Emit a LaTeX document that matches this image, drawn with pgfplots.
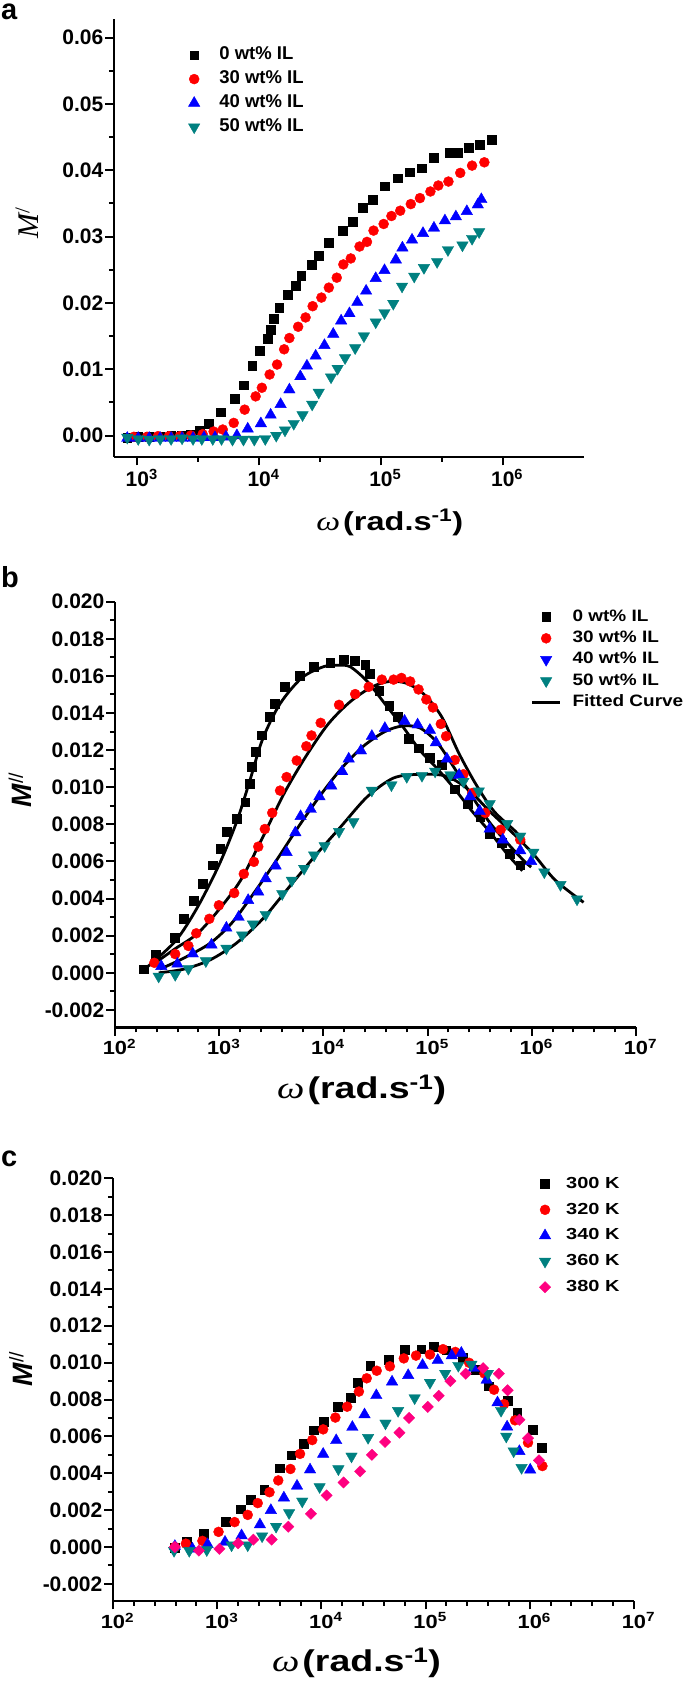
\documentclass[border=0pt]{standalone}
\usepackage{fontspec}
\setmainfont{Liberation Sans}
\newfontfamily\serif{Liberation Serif}
\newfontfamily\serifW[FakeStretch=1.25]{Liberation Serif}
\newfontfamily\sansW[FakeStretch=1.25]{Liberation Sans}
\newfontfamily\sansM[FakeStretch=1.15]{Liberation Sans}
\usepackage{pgfplots}
\pgfplotsset{compat=1.18}
\definecolor{dcyan}{RGB}{0,128,128}
\definecolor{opink}{RGB}{255,0,128}
\pgfplotsset{
 panel/.style={
   scale only axis, anchor=south west,
   axis x line*=bottom, axis y line*=left,
   axis line style={line width=2.3pt,-},
   every outer x axis line/.append style={-},
   every outer y axis line/.append style={-},
   every inner x axis line/.append style={-},
   every inner y axis line/.append style={-},
   tick align=outside,
   major tick length=8.5pt, minor tick length=5pt,
   every tick/.style={black, line width=2pt},
   scaled y ticks=false, scaled x ticks=false,
   y tick label style={font=\fontsize{21}{21}\selectfont\bfseries, inner xsep=2pt},
   clip=false,
   legend cell align=left,
 },
 sq/.style={only marks, mark=square*, mark size=4.4pt, black},
 ci/.style={only marks, mark=*, mark size=5pt, red},
 tu/.style={only marks, mark=triangle*, mark size=6.6pt, blue},
 td/.style={only marks, mark=triangle*, mark size=6.6pt, dcyan, mark options={rotate=180}},
 tdb/.style={only marks, mark=triangle*, mark size=6.6pt, blue, mark options={rotate=180}},
 di/.style={only marks, mark=square*, mark size=4.0pt, opink, mark options={rotate=45}},
 fit/.style={black, line width=2.8pt, smooth, no marks},
 lineimg/.style={legend image code/.code={\draw[##1] (0pt,0pt) -- (28pt,0pt);}},
}
\begin{document}
\begin{tikzpicture}[x=1pt,y=1pt]
\path[use as bounding box] (0,0) rectangle (685,1684);
\node[anchor=base west, inner sep=0pt, font=\fontsize{29}{29}\selectfont\bfseries] at (1,1664) {a};
\node[anchor=base west, inner sep=0pt, font=\fontsize{29}{29}\selectfont\bfseries] at (1,1096) {b};
\node[anchor=base west, inner sep=0pt, font=\fontsize{29}{29}\selectfont\bfseries] at (1,517) {c};

% ---------------- panel a
\begin{axis}[panel, at={(114pt,1227pt)}, width=470pt, height=437.5pt,
  xmin=2.808, xmax=6.667, ymin=-0.00324, ymax=0.06274,
  xtick={3,4,5,6},
  xticklabels={10\rlap{\textsuperscript{3}},10\rlap{\textsuperscript{4}},10\rlap{\textsuperscript{5}},10\rlap{\textsuperscript{6}}},
  x tick label style={font=\fontsize{21}{21}\selectfont\bfseries},
  minor x tick num=1,
  ytick={0,0.01,0.02,0.03,0.04,0.05,0.06},
  yticklabels={0.00,0.01,0.02,0.03,0.04,0.05,0.06},
  minor y tick num=1,
  xlabel={{\fontsize{27}{27}\selectfont\serifW\itshape ω}\hspace{3pt}{\fontsize{26}{26}\selectfont\sansW\bfseries(rad.s\textsuperscript{-1})}},
  xlabel style={at={(axis description cs:0.43,-0.169)}, anchor=base west, inner sep=0pt},
  ylabel={{\fontsize{30}{30}\selectfont\serif\itshape M\textsuperscript{\upshape /}}},
  ylabel style={at={(axis description cs:-0.185,0.535)}, anchor=center, inner sep=0pt},
  legend image code/.code={\path (0pt,0pt) (28pt,0pt); \draw[#1] plot coordinates {(14pt,0pt)};},
  legend style={draw=none, fill=none, inner sep=0pt, outer sep=0pt,
     at={(axis description cs:0.1404,0.946)}, anchor=north west,
     font=\fontsize{18.5}{18.5}\selectfont\bfseries,
     nodes={inner sep=0pt, text height=16.8pt, text depth=7.2pt},
     row sep=0pt,
     /tikz/every odd column/.append style={column sep=11pt}},
]
\addplot[sq] coordinates {(2.917,-0.0003) (3.007,-0.0002) (3.097,-0.0002) (3.187,-0.0001) (3.277,0.0000) (3.367,0.0000) (3.440,0.0002) (3.511,0.0008) (3.583,0.0018) (3.683,0.0035) (3.799,0.0056) (3.871,0.0076) (3.942,0.0105) (4.007,0.0128) (4.068,0.0146) (4.097,0.0160) (4.122,0.0176) (4.165,0.0193) (4.234,0.0212) (4.302,0.0226) (4.345,0.0241) (4.428,0.0257) (4.489,0.0271) (4.572,0.0291) (4.687,0.0309) (4.770,0.0323) (4.849,0.0343) (4.932,0.0356) (5.029,0.0376) (5.137,0.0388) (5.237,0.0397) (5.335,0.0403) (5.435,0.0419) (5.561,0.0426) (5.633,0.0427) (5.723,0.0434) (5.813,0.0439) (5.910,0.0446)};
\addplot[ci] coordinates {(2.971,-0.0002) (3.079,-0.0002) (3.169,-0.0001) (3.259,-0.0001) (3.349,-0.0001) (3.439,0.0000) (3.536,0.0002) (3.626,0.0006) (3.701,0.0009) (3.791,0.0019) (3.881,0.0039) (3.971,0.0059) (4.022,0.0072) (4.086,0.0092) (4.147,0.0107) (4.205,0.0130) (4.248,0.0147) (4.320,0.0164) (4.381,0.0178) (4.439,0.0195) (4.511,0.0208) (4.572,0.0223) (4.637,0.0238) (4.691,0.0258) (4.752,0.0267) (4.824,0.0285) (4.885,0.0292) (4.939,0.0309) (5.022,0.0319) (5.086,0.0331) (5.158,0.0339) (5.245,0.0349) (5.320,0.0358) (5.406,0.0368) (5.471,0.0377) (5.554,0.0383) (5.651,0.0396) (5.748,0.0407) (5.849,0.0412)};
\addplot[tu] coordinates {(2.917,-0.0004) (3.007,-0.0004) (3.097,-0.0004) (3.187,-0.0004) (3.277,-0.0004) (3.367,-0.0004) (3.457,-0.0004) (3.547,-0.0003) (3.637,-0.0003) (3.727,-0.0002) (3.817,0.0000) (3.906,0.0010) (4.014,0.0018) (4.094,0.0031) (4.176,0.0047) (4.248,0.0069) (4.338,0.0089) (4.392,0.0105) (4.464,0.0120) (4.536,0.0136) (4.608,0.0153) (4.673,0.0173) (4.741,0.0184) (4.806,0.0201) (4.878,0.0218) (4.957,0.0237) (5.029,0.0249) (5.122,0.0265) (5.176,0.0283) (5.255,0.0295) (5.345,0.0305) (5.435,0.0313) (5.525,0.0324) (5.615,0.0330) (5.705,0.0338) (5.795,0.0348) (5.824,0.0356)};
\addplot[td] coordinates {(2.917,-0.0003) (3.007,-0.0005) (3.097,-0.0006) (3.187,-0.0005) (3.277,-0.0005) (3.367,-0.0004) (3.457,-0.0005) (3.529,-0.0005) (3.619,-0.0005) (3.691,-0.0005) (3.781,-0.0006) (3.871,-0.0006) (3.960,-0.0006) (4.050,-0.0005) (4.140,0.0000) (4.212,0.0008) (4.284,0.0018) (4.356,0.0031) (4.435,0.0047) (4.489,0.0065) (4.590,0.0088) (4.644,0.0101) (4.705,0.0117) (4.788,0.0132) (4.860,0.0150) (4.957,0.0171) (5.029,0.0185) (5.101,0.0199) (5.173,0.0225) (5.273,0.0240) (5.353,0.0253) (5.461,0.0262) (5.550,0.0280) (5.669,0.0287) (5.748,0.0297) (5.806,0.0307)};
\legend{0 wt\% IL,30 wt\% IL,40 wt\% IL,50 wt\% IL}
\end{axis}

% ---------------- panel b
\begin{axis}[panel, at={(115pt,656.6pt)}, width=521pt, height=425.7pt,
  xmin=2, xmax=7, ymin=-0.00294, ymax=0.020,
  xtick={2,3,4,5,6,7},
  xticklabels={10\rlap{\textsuperscript{2}},10\rlap{\textsuperscript{3}},10\rlap{\textsuperscript{4}},10\rlap{\textsuperscript{5}},10\rlap{\textsuperscript{6}},10\rlap{\textsuperscript{7}}},
  x tick label style={font=\fontsize{19}{19}\selectfont\sansM\bfseries},
  minor x tick num=4,
  ytick={-0.002,0,0.002,0.004,0.006,0.008,0.010,0.012,0.014,0.016,0.018,0.020},
  yticklabels={-0.002,0.000,0.002,0.004,0.006,0.008,0.010,0.012,0.014,0.016,0.018,0.020},
  minor y tick num=1,
  xlabel={{\fontsize{31}{31}\selectfont\serifW\itshape ω}\hspace{3pt}{\fontsize{30}{30}\selectfont\sansW\bfseries(rad.s\textsuperscript{-1})}},
  xlabel style={at={(axis description cs:0.311,-0.167)}, anchor=base west, inner sep=0pt},
  ylabel={{\fontsize{28}{28}\selectfont\bfseries\itshape M\textsuperscript{\mdseries\upshape //}}},
  ylabel style={at={(axis description cs:-0.182,0.558)}, anchor=center, inner sep=0pt},
  legend image code/.code={\path (0pt,0pt) (28pt,0pt); \draw[#1] plot coordinates {(14pt,0pt)};},
  legend style={draw=none, fill=none, inner sep=0pt, outer sep=0pt,
     at={(axis description cs:0.798,0.989)}, anchor=north west,
     font=\fontsize{16.5}{16.5}\selectfont\sansM\bfseries,
     nodes={inner sep=0pt, text height=14.95pt, text depth=6.35pt},
     row sep=0pt,
     /tikz/every odd column/.append style={column sep=11pt}},
]
\addlegendimage{sq}
\addlegendimage{ci}
\addlegendimage{tdb}
\addlegendimage{td}
\addlegendimage{black, line width=2.8pt, lineimg}
\addplot[fit, forget plot] coordinates {(2.285,0.0002) (2.578,0.0017) (2.788,0.0035) (2.997,0.0058) (3.165,0.0081) (3.291,0.0103) (3.417,0.0126) (3.584,0.0145) (3.794,0.0159) (4.003,0.0165) (4.129,0.01657) (4.255,0.0165) (4.422,0.0157) (4.590,0.0145) (4.758,0.0133) (4.925,0.0120) (5.093,0.0110) (5.261,0.0099) (5.428,0.0087) (5.596,0.0076) (5.764,0.0064) (5.910,0.0055)};
\addplot[fit, forget plot] coordinates {(2.377,0.0005) (2.578,0.0013) (2.788,0.0021) (2.997,0.0034) (3.207,0.0050) (3.417,0.0073) (3.626,0.0097) (3.836,0.0117) (4.045,0.0134) (4.255,0.0146) (4.464,0.0154) (4.632,0.0157) (4.800,0.0156) (4.967,0.0150) (5.135,0.0138) (5.303,0.0118) (5.470,0.0101) (5.638,0.0087) (5.847,0.0076) (5.931,0.0070)};
\addplot[fit, forget plot] coordinates {(2.432,0.0002) (2.662,0.0008) (2.914,0.0016) (3.123,0.0027) (3.333,0.0043) (3.542,0.0060) (3.752,0.0078) (3.962,0.0095) (4.171,0.0110) (4.381,0.0122) (4.590,0.0130) (4.758,0.0133) (4.925,0.0132) (5.093,0.0124) (5.261,0.0110) (5.428,0.0095) (5.596,0.0081) (5.764,0.0070) (5.931,0.0060) (5.994,0.0057)};
\addplot[fit, forget plot] coordinates {(2.419,0.0000) (2.662,0.0002) (2.914,0.0007) (3.165,0.0016) (3.417,0.0029) (3.668,0.0046) (3.920,0.0063) (4.171,0.0079) (4.423,0.0095) (4.674,0.0105) (4.925,0.0107) (5.177,0.0106) (5.386,0.0099) (5.596,0.0087) (5.805,0.0076) (6.015,0.0064) (6.224,0.0050) (6.497,0.0038)};
\addplot[sq, forget plot] coordinates {(2.277,0.0002) (2.390,0.0010) (2.570,0.0019) (2.662,0.0029) (2.759,0.0039) (2.838,0.0048) (2.935,0.0058) (3.010,0.0067) (3.073,0.0076) (3.165,0.0083) (3.249,0.0092) (3.291,0.0102) (3.312,0.0111) (3.354,0.0119) (3.408,0.0128) (3.488,0.0138) (3.530,0.0145) (3.626,0.0154) (3.773,0.0160) (3.907,0.0165) (4.066,0.0167) (4.192,0.0169) (4.297,0.0168) (4.401,0.0166) (4.443,0.0161) (4.536,0.0152) (4.632,0.0144) (4.716,0.0138) (4.821,0.0126) (4.917,0.0121) (5.022,0.0116) (5.135,0.0112) (5.219,0.0106) (5.261,0.0099) (5.386,0.0091) (5.504,0.0084) (5.596,0.0075) (5.713,0.0070) (5.785,0.0064) (5.889,0.0058)};
\addplot[ci, forget plot] coordinates {(2.377,0.00054) (2.578,0.00101) (2.704,0.00145) (2.780,0.00213) (2.905,0.00291) (2.997,0.00364) (3.144,0.00430) (3.236,0.00533) (3.333,0.00598) (3.375,0.00680) (3.438,0.00775) (3.509,0.00862) (3.584,0.00982) (3.647,0.01055) (3.744,0.01144) (3.836,0.01221) (3.886,0.01279) (3.974,0.01347) (4.150,0.01444) (4.305,0.01502) (4.435,0.01541) (4.561,0.01580) (4.674,0.01580) (4.749,0.01589) (4.833,0.01570) (4.913,0.01527) (4.988,0.01473) (5.051,0.01430) (5.127,0.01341) (5.177,0.01275) (5.261,0.01147) (5.344,0.01070) (5.428,0.00969) (5.554,0.00862) (5.701,0.00771) (5.889,0.00717)};
\addplot[tu, forget plot] coordinates {(2.444,0.00035) (2.599,0.00048) (2.746,0.00103) (2.926,0.00151) (3.069,0.00242) (3.186,0.00300) (3.278,0.00391) (3.375,0.00436) (3.446,0.00508) (3.542,0.00576) (3.647,0.00649) (3.731,0.00756) (3.781,0.00843) (3.878,0.00882) (3.962,0.00950) (4.075,0.01008) (4.180,0.01085) (4.243,0.01153) (4.360,0.01197) (4.465,0.01275) (4.590,0.01318) (4.779,0.01357) (4.904,0.01337) (5.022,0.01308) (5.080,0.01241) (5.185,0.01153) (5.303,0.01066) (5.407,0.00950) (5.500,0.00872) (5.596,0.00776) (5.722,0.00717) (5.889,0.00659) (5.994,0.00601)};
\addplot[td, forget plot] coordinates {(2.419,-0.00019) (2.578,-0.00010) (2.704,0.00023) (2.872,0.00064) (3.069,0.00132) (3.220,0.00203) (3.324,0.00262) (3.446,0.00314) (3.605,0.00426) (3.697,0.00498) (3.815,0.00562) (3.911,0.00634) (4.012,0.00684) (4.150,0.00761) (4.288,0.00814) (4.465,0.00983) (4.653,0.01012) (4.800,0.01057) (4.946,0.01063) (5.072,0.01086) (5.219,0.01066) (5.344,0.01031) (5.491,0.00979) (5.596,0.00911) (5.764,0.00804) (5.889,0.00736) (6.015,0.00649) (6.120,0.00543) (6.275,0.00475) (6.434,0.00397)};
\legend{0 wt\% IL,30 wt\% IL,40 wt\% IL,50 wt\% IL,Fitted Curve}
\end{axis}

% ---------------- panel c
\begin{axis}[panel, at={(113pt,83.2pt)}, width=521pt, height=422.5pt,
  xmin=2, xmax=7, ymin=-0.00292, ymax=0.020,
  xtick={2,3,4,5,6,7},
  xticklabels={10\rlap{\textsuperscript{2}},10\rlap{\textsuperscript{3}},10\rlap{\textsuperscript{4}},10\rlap{\textsuperscript{5}},10\rlap{\textsuperscript{6}},10\rlap{\textsuperscript{7}}},
  x tick label style={font=\fontsize{19}{19}\selectfont\sansM\bfseries},
  minor x tick num=4,
  ytick={-0.002,0,0.002,0.004,0.006,0.008,0.010,0.012,0.014,0.016,0.018,0.020},
  yticklabels={-0.002,0.000,0.002,0.004,0.006,0.008,0.010,0.012,0.014,0.016,0.018,0.020},
  minor y tick num=1,
  xlabel={{\fontsize{31}{31}\selectfont\serifW\itshape ω}\hspace{3pt}{\fontsize{30}{30}\selectfont\sansW\bfseries(rad.s\textsuperscript{-1})}},
  xlabel style={at={(axis description cs:0.305,-0.1685)}, anchor=base west, inner sep=0pt},
  ylabel={{\fontsize{28}{28}\selectfont\bfseries\itshape M\textsuperscript{\mdseries\upshape //}}},
  ylabel style={at={(axis description cs:-0.177,0.549)}, anchor=center, inner sep=0pt},
  legend image code/.code={\path (0pt,0pt) (28pt,0pt); \draw[#1] plot coordinates {(14pt,0pt)};},
  legend style={draw=none, fill=none, inner sep=0pt, outer sep=0pt,
     at={(axis description cs:0.802,1.017)}, anchor=north west,
     font=\fontsize{16}{16}\selectfont\sansW\bfseries,
     nodes={inner sep=0pt, text height=17.1pt, text depth=8.7pt},
     row sep=0pt,
     /tikz/every odd column/.append style={column sep=7pt}},
]
\addplot[sq] coordinates {(2.594,-0.00006) (2.711,0.00029) (2.874,0.00072) (3.084,0.00137) (3.222,0.00205) (3.318,0.00258) (3.452,0.00312) (3.598,0.00427) (3.711,0.00498) (3.828,0.00560) (3.925,0.00634) (4.025,0.00681) (4.155,0.00761) (4.280,0.00810) (4.351,0.00892) (4.469,0.00984) (4.644,0.01015) (4.803,0.01068) (4.958,0.01073) (5.075,0.01087) (5.197,0.01067) (5.356,0.01028) (5.481,0.00960) (5.607,0.00872) (5.787,0.00794) (5.879,0.00730) (6.025,0.00638) (6.117,0.00537)};
\addplot[ci] coordinates {(2.594,0.0000) (2.699,0.00018) (2.858,0.00033) (3.013,0.00082) (3.167,0.00135) (3.293,0.00174) (3.389,0.00238) (3.502,0.00297) (3.586,0.00361) (3.703,0.00423) (3.795,0.00505) (3.912,0.00580) (4.017,0.00638) (4.134,0.00702) (4.247,0.00761) (4.360,0.00843) (4.435,0.00915) (4.531,0.00956) (4.657,0.00980) (4.791,0.01023) (4.908,0.01038) (5.042,0.01044) (5.167,0.01073) (5.285,0.01058) (5.418,0.00999) (5.565,0.00941) (5.657,0.00853) (5.753,0.00775) (5.858,0.00687) (5.983,0.00566) (6.121,0.00439)};
\addplot[tu] coordinates {(2.594,0.00004) (2.762,-0.0001) (2.908,0.00014) (3.075,0.00027) (3.234,0.00062) (3.410,0.00121) (3.515,0.00199) (3.640,0.00267) (3.766,0.00331) (3.891,0.00419) (4.017,0.00504) (4.142,0.00578) (4.297,0.00650) (4.414,0.00718) (4.527,0.00822) (4.678,0.00896) (4.833,0.00931) (4.971,0.00986) (5.117,0.01013) (5.251,0.01038) (5.343,0.01052) (5.460,0.00970) (5.586,0.00906) (5.690,0.00783) (5.782,0.00652) (5.900,0.00519) (6.004,0.00418)};
\addplot[td] coordinates {(2.586,-0.0002) (2.732,-0.0002) (2.900,-0.00016) (3.138,0.0001) (3.293,0.0001) (3.431,0.00059) (3.565,0.00111) (3.690,0.00185) (3.816,0.00248) (3.983,0.00326) (4.163,0.00423) (4.289,0.00492) (4.448,0.00593) (4.615,0.00671) (4.736,0.00739) (4.895,0.00808) (5.042,0.00892) (5.188,0.00941) (5.314,0.00984) (5.439,0.00990) (5.598,0.00941) (5.724,0.0074) (5.774,0.0060) (5.845,0.0052) (5.921,0.0043)};
\addplot[di] coordinates {(2.594,0.0000) (2.824,-0.0002) (3.021,-0.0001) (3.201,0.0002) (3.347,0.0004) (3.523,0.0004) (3.682,0.0011) (3.900,0.0018) (4.050,0.0028) (4.213,0.0035) (4.372,0.0041) (4.485,0.0050) (4.611,0.0057) (4.749,0.0062) (4.841,0.0070) (5.021,0.0076) (5.126,0.0082) (5.238,0.0090) (5.385,0.0094) (5.552,0.0097) (5.703,0.0094) (5.787,0.0085) (5.900,0.0069) (5.983,0.0059) (6.088,0.0047)};
\legend{300 K,320 K,340 K,360 K,380 K}
\end{axis}
\end{tikzpicture}
\end{document}
